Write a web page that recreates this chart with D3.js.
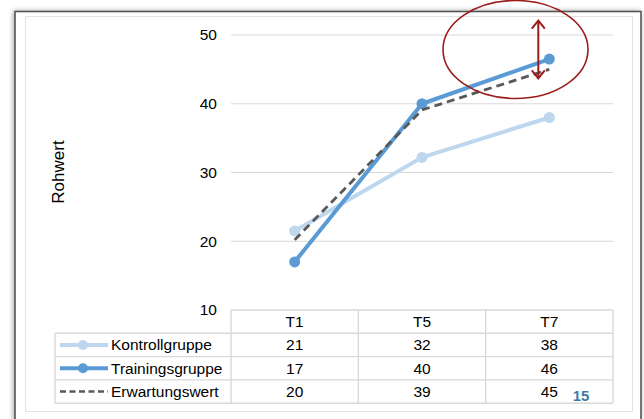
<!DOCTYPE html>
<html>
<head>
<meta charset="utf-8">
<script src="https://cdn.jsdelivr.net/npm/d3@7"></script>
<style>
  html, body { margin: 0; padding: 0; background: #fff; }
  svg { display: block; }
  text { font-family: "Liberation Sans", Arial, sans-serif; fill: #000; }
</style>
</head>
<body>
<svg id="chart" width="644" height="419"></svg>
<script>
// ---- data ----
const categories = ["T1", "T5", "T7"];
const seriesNames = ["Kontrollgruppe", "Trainingsgruppe", "Erwartungswert"];
const kontrollValues = [21.5, 32.2, 38.0];
const trainingsValues = [17.0, 40.0, 46.5];
const erwartungValues = [20.2, 39.1, 45.0];
const kontrollLabels = ["21", "32", "38"];
const trainingsLabels = ["17", "40", "46"];
const erwartungLabels = ["20", "39", "45"];
const yTicks = [10, 20, 30, 40, 50];
const yLabel = "Rohwert";
const pageNumber = "15";
// annotation (value units)
const arrowTop = 52.1, arrowBottom = 43.7;

const svg = d3.select("#chart");

// frame shadow filter
const defs = svg.append("defs");
const f = defs.append("filter").attr("id", "sh").attr("x", "-10%").attr("y", "-10%").attr("width", "120%").attr("height", "120%");
f.append("feDropShadow").attr("dx", -1).attr("dy", 0).attr("stdDeviation", 2.5).attr("flood-color", "#000").attr("flood-opacity", 0.35);

svg.append("rect").attr("x", 15).attr("y", 11.5).attr("width", 626).attr("height", 430)
  .attr("fill", "#fff").attr("stroke", "#555").attr("stroke-width", 1.6).attr("filter", "url(#sh)");
svg.append("rect").attr("x", 25.5).attr("y", 16.5).attr("width", 607).attr("height", 395)
  .attr("fill", "#fff").attr("stroke", "#e3e3e3").attr("stroke-width", 1);

// scales
const x = d3.scaleBand().domain(categories).range([231, 613]).paddingInner(0).paddingOuter(0);
const cx = c => x(c) + x.bandwidth() / 2;
const y = d3.scaleLinear().domain([10, 50]).range([310, 35]);

// gridlines
svg.append("g").selectAll("line").data(yTicks.filter(t => t > 10)).join("line")
  .attr("x1", 231).attr("x2", 613)
  .attr("y1", d => y(d)).attr("y2", d => y(d))
  .attr("stroke", "#d9d9d9").attr("stroke-width", 1.2);

// y axis via d3.axisLeft (labels only)
const yAxis = svg.append("g").attr("transform", "translate(231,0)")
  .call(d3.axisLeft(y).tickValues(yTicks).tickSize(0).tickPadding(14));
yAxis.select(".domain").remove();
yAxis.selectAll("text").attr("font-size", "15.5px").attr("font-family", "Liberation Sans, Arial, sans-serif").attr("fill", "#000");

// y label
svg.append("text").attr("transform", "translate(64,172) rotate(-90)")
  .attr("text-anchor", "middle").attr("font-size", "17px").text(yLabel);

// table
const rowH = 23.3;
const tableTop = y(10);
const rows = [
  { name: seriesNames[0], labels: kontrollLabels },
  { name: seriesNames[1], labels: trainingsLabels },
  { name: seriesNames[2], labels: erwartungLabels }
];
const tg = svg.append("g");
const gridC = "#d9d9d9";
tg.append("line").attr("x1", 231).attr("x2", 613).attr("y1", tableTop).attr("y2", tableTop).attr("stroke", gridC).attr("stroke-width", 1.4);
for (let i = 1; i <= 3; i++) {
  const yy = tableTop + rowH * i;
  tg.append("line").attr("x1", 55).attr("x2", 613).attr("y1", yy).attr("y2", yy).attr("stroke", gridC).attr("stroke-width", 1.4);
}
const bottom = tableTop + rowH * 4;
tg.append("line").attr("x1", 55).attr("x2", 613).attr("y1", bottom).attr("y2", bottom).attr("stroke", gridC).attr("stroke-width", 1.4);
tg.append("line").attr("x1", 55).attr("x2", 55).attr("y1", tableTop + rowH).attr("y2", bottom).attr("stroke", gridC).attr("stroke-width", 1.4);
[231, ...categories.map(c => x(c) + x.bandwidth())].forEach(xx => {
  tg.append("line").attr("x1", xx).attr("x2", xx).attr("y1", tableTop).attr("y2", bottom).attr("stroke", gridC).attr("stroke-width", 1.4);
});
tg.selectAll("text.hdr").data(categories).join("text").attr("class", "hdr")
  .attr("x", d => cx(d)).attr("y", tableTop + rowH / 2 + 5.5)
  .attr("text-anchor", "middle").attr("font-size", "15.5px").text(d => d);
rows.forEach((r, i) => {
  const yc = tableTop + rowH * (i + 1) + rowH / 2;
  tg.append("text").attr("x", 111).attr("y", yc + 5.5).attr("font-size", "15.5px").text(r.name);
  tg.selectAll("text.v" + i).data(r.labels).join("text").attr("class", "v" + i)
    .attr("x", (d, j) => cx(categories[j])).attr("y", yc + 5.5)
    .attr("text-anchor", "middle").attr("font-size", "15.5px").text(d => d);
});

// series styles
const styles = [
  { color: "#bdd7ee", width: 4, dash: null, marker: true },
  { color: "#5b9bd5", width: 4, dash: null, marker: true },
  { color: "#595959", width: 2.8, dash: "8,5", marker: false }
];
const seriesValues = [kontrollValues, trainingsValues, erwartungValues];

styles.forEach((s, i) => {
  const yc = tableTop + rowH * (i + 1) + rowH / 2;
  tg.append("line").attr("x1", 60).attr("x2", 108).attr("y1", yc).attr("y2", yc)
    .attr("stroke", s.color).attr("stroke-width", s.dash ? 2.5 : s.width)
    .attr("stroke-dasharray", s.dash ? "6,3.5" : null);
  if (s.marker) tg.append("circle").attr("cx", 83).attr("cy", yc).attr("r", 5).attr("fill", s.color);
});

const line = d3.line().x((d, i) => cx(categories[i])).y(d => y(d));
[0, 1, 2].forEach(i => {
  const s = styles[i];
  svg.append("path").datum(seriesValues[i]).attr("d", line)
    .attr("fill", "none").attr("stroke", s.color).attr("stroke-width", s.width)
    .attr("stroke-dasharray", s.dash).attr("stroke-linejoin", "round");
  if (s.marker) {
    svg.append("g").selectAll("circle").data(seriesValues[i]).join("circle")
      .attr("cx", (d, j) => cx(categories[j])).attr("cy", d => y(d)).attr("r", 5.5).attr("fill", s.color);
  }
});

// annotation: red ellipse and double arrow
const red = "#9b1c1c";
svg.append("ellipse").attr("cx", 515.5).attr("cy", 49.5).attr("rx", 72.5).attr("ry", 49)
  .attr("fill", "none").attr("stroke", red).attr("stroke-width", 1.6);
const ax = 538.3, a1 = y(arrowTop), a2 = y(arrowBottom);
svg.append("line").attr("x1", ax).attr("x2", ax).attr("y1", a1 + 1).attr("y2", a2 - 1).attr("stroke", red).attr("stroke-width", 2);
svg.append("path").attr("d", `M${ax - 6.5},${a1 + 8} L${ax},${a1} L${ax + 6.5},${a1 + 8}`)
  .attr("fill", "none").attr("stroke", red).attr("stroke-width", 2);
svg.append("path").attr("d", `M${ax - 6.5},${a2 - 8} L${ax},${a2} L${ax + 6.5},${a2 - 8}`)
  .attr("fill", "none").attr("stroke", red).attr("stroke-width", 2);

// page number
svg.append("text").attr("x", 581).attr("y", 401).attr("text-anchor", "middle")
  .attr("font-family", "Open Sans, sans-serif").attr("font-weight", 700)
  .attr("font-size", "15px").style("fill", "#3f7aa6").text(pageNumber);
</script>
</body>
</html>
